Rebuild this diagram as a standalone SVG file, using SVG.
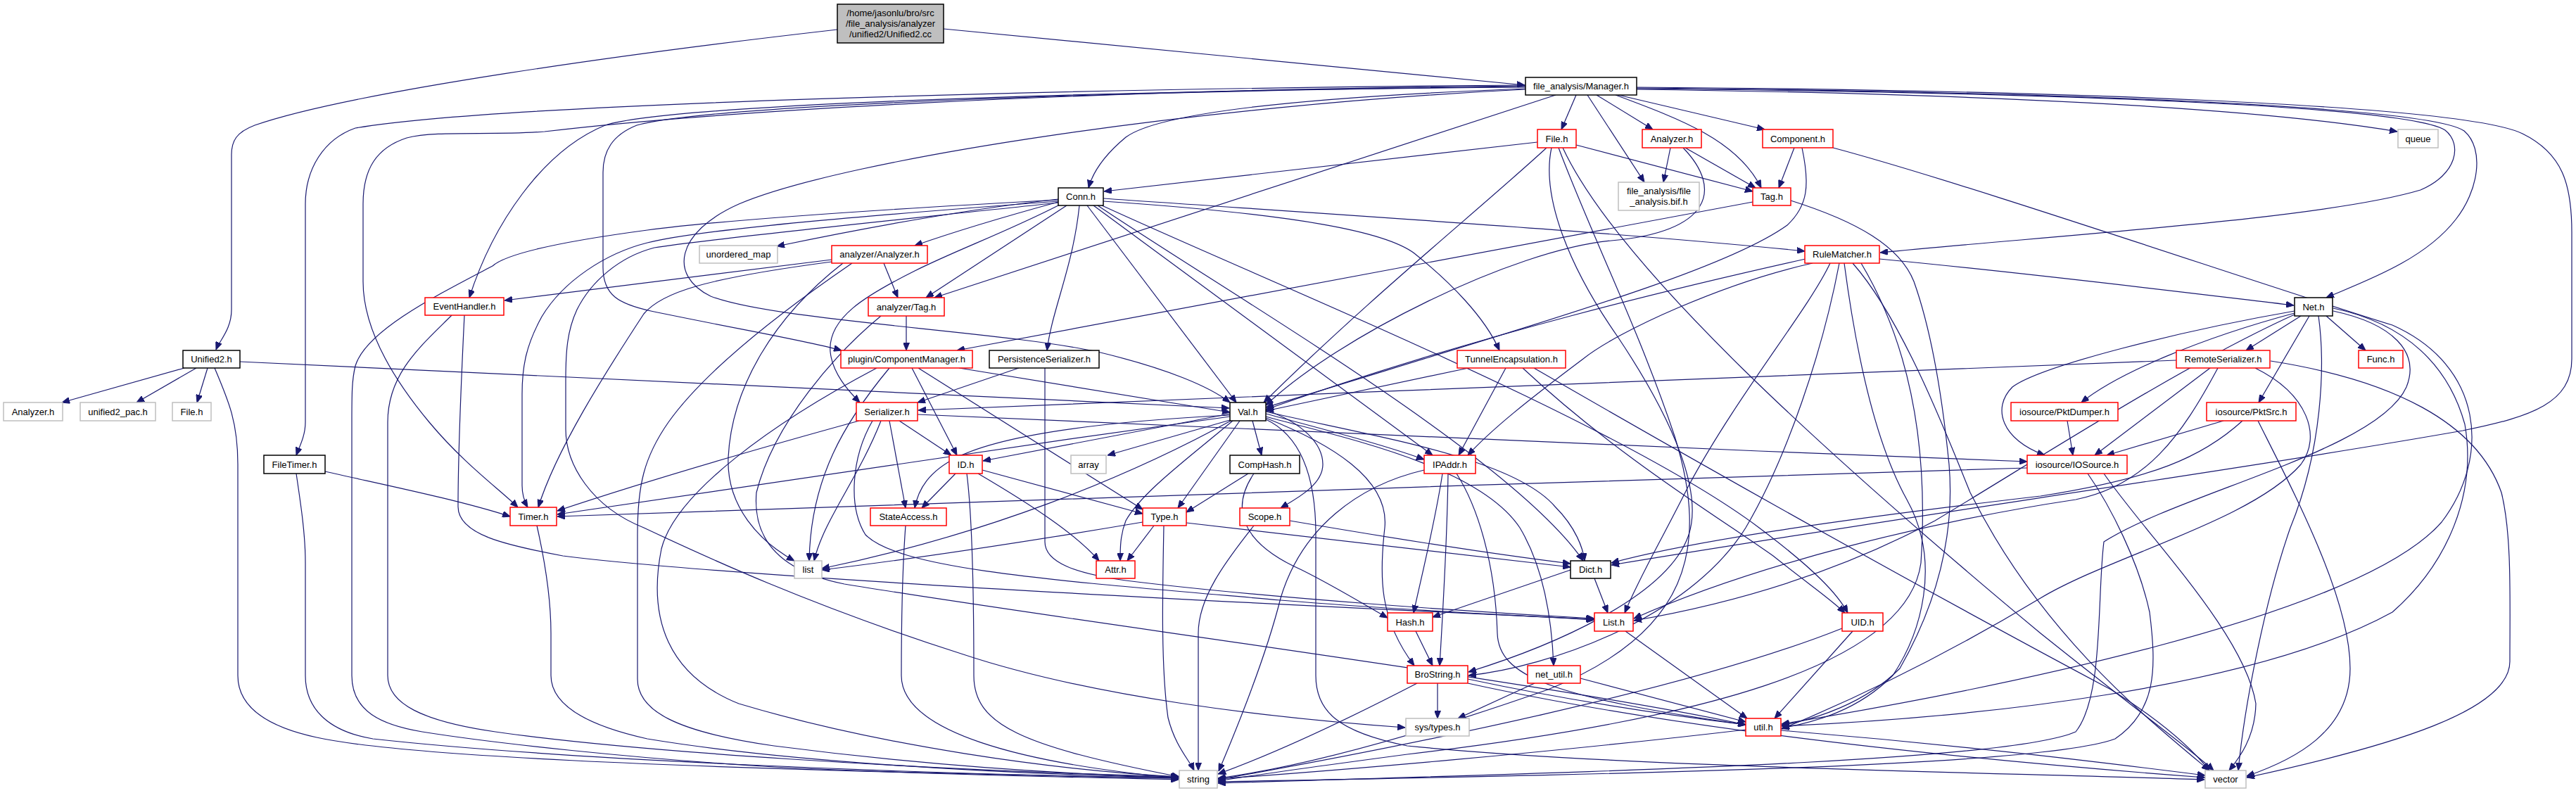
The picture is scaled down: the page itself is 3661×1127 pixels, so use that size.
<svg xmlns="http://www.w3.org/2000/svg" width="3661" height="1127" viewBox="0 0 3661 1127">
<style>
.e{fill:none;stroke:#191970;stroke-width:1.2;marker-end:url(#ah)}
.nb{fill:#fff;stroke:#000;stroke-width:1.5}
.nr{fill:#fff;stroke:#ff0000;stroke-width:1.5}
.ng{fill:#fff;stroke:#bfbfbf;stroke-width:1.5}
.nm{fill:#bfbfbf;stroke:#000;stroke-width:1.5}
text{font-family:"Liberation Sans",Arial,Helvetica,sans-serif;font-size:13px;fill:#000;text-anchor:middle}
</style>
<defs>
<marker id="ah" viewBox="0 0 11 9" refX="11" refY="4.5" markerWidth="11" markerHeight="9" markerUnits="userSpaceOnUse" orient="auto"><path d="M0,0L11,4.5L0,9z" fill="#191970" stroke="#191970" stroke-width="1"/></marker>
</defs>
<rect width="3661" height="1127" fill="#fff"/>
<g id="edges">
<path class="e" d="M1190,42 C900,75 500,130 362,178 C336,188 329,200 329,220 L329,440 C329,468 312,484 307,497"/>
<path class="e" d="M1341,41 L2167,121"/>
<path class="e" d="M262,523 L88,572"/>
<path class="e" d="M279,523 L194,572"/>
<path class="e" d="M295,523 L280,572"/>
<path class="e" d="M341,514 C900,541 1400,564 1747,580"/>
<path class="e" d="M305,523 C325,570 338,600 338,660 L338,960 C338,1010 390,1035 450,1048 C560,1072 900,1092 1675,1106"/>
<path class="e" d="M2240,135 L2219,184"/>
<path class="e" d="M2256,135 L2337,259"/>
<path class="e" d="M2269,135 L2349,184"/>
<path class="e" d="M2296,135 C2390,170 2470,200 2503,267"/>
<path class="e" d="M2300,135 L2508,184"/>
<path class="e" d="M2326,127 C2800,133 3200,152 3407,187"/>
<path class="e" d="M2326,126 C2900,131 3420,150 3475,185 C3500,205 3492,248 3440,270 C3300,312 2900,336 2672,359"/>
<path class="e" d="M2326,125 C2900,130 3450,150 3502,186 C3532,212 3522,272 3490,312 C3445,370 3360,400 3306,423"/>
<path class="e" d="M2326,124 C2900,128 3500,148 3585,190 C3642,218 3655,262 3655,330 L3655,510 C3655,572 3600,592 3500,612 C3200,665 2700,735 2290,803"/>
<path class="e" d="M2168,126 C1800,140 1640,165 1600,195 C1570,220 1553,245 1547,267"/>
<path class="e" d="M2211,135 L1328,423"/>
<path class="e" d="M2168,127 C1700,150 1200,226 1050,290 C960,330 950,392 1010,421 C1100,456 1420,470 1560,500 C1660,524 1720,550 1748,572"/>
<path class="e" d="M2168,124 C1600,128 1000,150 905,178 C870,192 857,215 857,245 L857,380 C857,420 880,432 925,442 C1050,468 1150,485 1196,498"/>
<path class="e" d="M2168,121 C1500,126 700,148 505,182 C460,198 434,240 434,290 L434,600 C434,620 425,636 421,647"/>
<path class="e" d="M2168,122 C1500,128 1000,160 774,187 C700,193 620,185 578,196 C535,210 516,240 516,290 L516,400 C516,470 560,540 610,600 C660,660 712,697 736,721"/>
<path class="e" d="M2168,123 C1500,130 950,150 860,178 C770,215 700,320 667,423"/>
<path class="e" d="M1504,283 C1350,300 1200,330 1104,350"/>
<path class="e" d="M1504,287 C1420,310 1340,335 1300,349"/>
<path class="e" d="M1516,292 L1316,423"/>
<path class="e" d="M1506,291 C1430,330 1360,355 1300,385 C1230,420 1176,452 1180,500 C1183,530 1205,555 1222,572"/>
<path class="e" d="M1534,292 C1525,380 1495,440 1488,498"/>
<path class="e" d="M1545,292 L1757,572"/>
<path class="e" d="M1554,292 L2036,647"/>
<path class="e" d="M1560,292 C1750,420 2150,650 2250,797"/>
<path class="e" d="M1566,292 C1800,400 2300,600 2500,750 C2580,810 2612,845 2626,871"/>
<path class="e" d="M1568,282 C1900,305 2300,330 2565,357"/>
<path class="e" d="M1568,286 C1850,305 1970,330 2010,360 C2060,400 2110,450 2131,498"/>
<path class="e" d="M1504,286 C1250,305 1000,325 920,345 C860,360 800,400 770,450 C748,490 742,520 742,560 L742,690 C742,705 746,714 750,721"/>
<path class="e" d="M1504,284 C1300,295 1050,310 920,327 C800,343 720,360 700,378 C620,420 520,470 505,520 C500,540 500,560 500,600 L500,960 C500,1010 540,1030 600,1040 C700,1056 900,1078 1100,1090 C1300,1100 1500,1104 1675,1108"/>
<path class="e" d="M1504,288 C1300,310 1000,340 930,352 C880,365 840,400 820,440 C806,470 804,500 804,540 L804,610 C804,660 840,720 915,750 C1000,790 1150,860 1369,930 C1550,990 1800,1020 1997,1034"/>
<path class="e" d="M2185,202 L1569,272"/>
<path class="e" d="M2240,206 L2491,272"/>
<path class="e" d="M2198,210 C2100,300 1950,420 1796,572"/>
<path class="e" d="M2205,210 C2190,280 2230,380 2300,480 C2380,600 2420,700 2400,760 C2370,850 2200,920 2087,955"/>
<path class="e" d="M2215,210 C2260,330 2330,470 2380,620 C2430,780 2400,900 2200,980 C2000,1050 1850,1090 1731,1106"/>
<path class="e" d="M2221,210 C2300,380 2600,650 2900,900 C3050,1020 3120,1070 3146,1095"/>
<path class="e" d="M2374,210 L2364,259"/>
<path class="e" d="M2395,210 L2495,267"/>
<path class="e" d="M2392,210 C2450,270 2430,330 2290,342 C2150,355 1900,480 1799,576"/>
<path class="e" d="M2550,210 L2528,267"/>
<path class="e" d="M2561,210 C2572,262 2570,292 2540,320 C2450,385 2200,455 1799,579"/>
<path class="e" d="M2605,210 C2800,262 3200,400 3400,462 C3530,520 3540,650 3470,742 C3350,880 2800,985 2532,1029"/>
<path class="e" d="M2491,287 L1360,498"/>
<path class="e" d="M2545,285 C2640,315 2700,350 2720,400 C2745,470 2760,560 2770,660 C2780,780 2740,880 2700,950 C2650,1000 2580,1022 2532,1031"/>
<path class="e" d="M2671,368 C2900,390 3100,415 3260,434"/>
<path class="e" d="M2566,368 C2400,405 2100,475 1799,582"/>
<path class="e" d="M2576,374 C2450,402 2300,470 2250,510 C2170,570 2120,610 2086,647"/>
<path class="e" d="M2601,374 C2570,440 2470,560 2400,690 C2360,770 2330,820 2309,871"/>
<path class="e" d="M2614,374 C2590,500 2540,650 2481,750 C2400,880 2200,948 2087,960"/>
<path class="e" d="M2621,374 C2635,480 2660,620 2710,710 C2760,800 2730,900 2690,960 C2640,1010 2580,1026 2532,1035"/>
<path class="e" d="M2633,374 C2700,450 2760,600 2800,700 C2900,900 3050,1020 3140,1095"/>
<path class="e" d="M2645,374 C2720,500 2740,650 2730,800 C2710,950 2400,1025 2000,1072 C1850,1092 1780,1102 1731,1110"/>
<path class="e" d="M642,448 C600,490 551,530 551,600 L551,960 C551,1000 600,1025 704,1040 C900,1068 1300,1094 1675,1104"/>
<path class="e" d="M660,448 C655,550 651,650 651,720 C651,760 720,775 800,790 C1000,815 1500,845 2265,880"/>
<path class="e" d="M1182,369 L717,427"/>
<path class="e" d="M1256,374 L1276,423"/>
<path class="e" d="M1182,372 C1000,396 940,416 915,446 C860,530 790,640 765,721"/>
<path class="e" d="M1211,374 C1100,450 1000,530 950,600 C915,650 906,690 906,760 L906,965 C906,1010 960,1040 1100,1060 C1300,1086 1500,1100 1675,1105"/>
<path class="e" d="M1198,374 C1100,450 1040,550 1035,650 C1032,720 1080,770 1129,797"/>
<path class="e" d="M1288,449 L1288,498"/>
<path class="e" d="M1252,449 C1190,500 1100,600 1075,700 C1070,760 1100,810 1200,830 C1500,880 2200,970 2481,1030"/>
<path class="e" d="M1363,523 L1748,586"/>
<path class="e" d="M1296,523 L1360,647"/>
<path class="e" d="M1305,523 L1624,724"/>
<path class="e" d="M1264,523 C1200,600 1152,680 1150,797"/>
<path class="e" d="M1246,523 C1100,600 960,700 940,780 C920,880 950,960 1050,1000 C1250,1060 1500,1095 1676,1104"/>
<path class="e" d="M1448,523 L1304,572"/>
<path class="e" d="M1485,523 L1485,770 C1485,800 1530,815 1600,825 C1800,850 2100,870 2266,879"/>
<path class="e" d="M2087,523 L1799,584"/>
<path class="e" d="M2140,523 L2073,647"/>
<path class="e" d="M2164,523 C2300,650 2450,740 2520,790 C2570,830 2600,850 2622,871"/>
<path class="e" d="M2180,523 C2400,650 2700,820 3000,980 C3080,1030 3120,1070 3140,1095"/>
<path class="e" d="M3093,512 C2600,528 1900,560 1305,583"/>
<path class="e" d="M3141,523 L2977,647"/>
<path class="e" d="M3152,523 C3100,620 3050,690 2950,710 C2750,740 2500,800 2322,879"/>
<path class="e" d="M3205,523 C3280,560 3300,620 3270,660 C3200,740 3000,790 2900,850 C2750,940 2620,1000 2532,1036"/>
<path class="e" d="M3227,513 C3400,540 3520,600 3555,700 C3570,760 3567,850 3567,940 C3567,1010 3400,1060 3193,1105"/>
<path class="e" d="M3261,442 C3100,470 2900,520 2860,550 C2830,580 2845,625 2906,647"/>
<path class="e" d="M3261,445 C3130,480 3010,530 2958,572"/>
<path class="e" d="M3270,449 L3192,498"/>
<path class="e" d="M3282,449 L3210,572"/>
<path class="e" d="M3306,449 L3362,498"/>
<path class="e" d="M3295,449 C3305,520 3300,640 3255,750 C3220,850 3190,1000 3181,1095"/>
<path class="e" d="M3316,442 C3400,460 3440,500 3420,550 C3380,640 3100,700 2990,770 C2980,850 2990,990 2950,1040 C2850,1085 2200,1098 1731,1113"/>
<path class="e" d="M3316,438 C3420,460 3480,520 3503,603 C3520,700 3480,800 3400,870 C3200,980 2800,1020 2532,1032"/>
<path class="e" d="M3261,447 C3100,520 2900,650 2750,740 C2600,820 2450,860 2322,882"/>
<path class="e" d="M2938,598 L2946,647"/>
<path class="e" d="M3160,598 L2994,647"/>
<path class="e" d="M3209,598 C3260,700 3340,850 3340,950 C3340,1040 3260,1080 3193,1103"/>
<path class="e" d="M3187,598 C3130,650 3060,680 2900,705 C2600,740 2400,770 2290,800"/>
<path class="e" d="M2881,665 C2200,685 1300,716 792,734"/>
<path class="e" d="M2967,673 C3000,720 3040,800 3055,870 C3065,950 3065,1010 3006,1050 C2900,1090 2300,1100 1731,1111"/>
<path class="e" d="M2990,673 C3050,760 3190,900 3206,1000 C3205,1050 3180,1080 3168,1095"/>
<path class="e" d="M1221,598 C1050,645 900,690 792,726"/>
<path class="e" d="M1278,598 L1352,647"/>
<path class="e" d="M1264,598 L1287,722"/>
<path class="e" d="M1252,598 C1220,680 1170,740 1157,797"/>
<path class="e" d="M1240,598 C1210,650 1205,720 1230,760 C1280,810 1500,825 1820,853 C2000,868 2150,874 2266,881"/>
<path class="e" d="M1304,589 C1600,600 2200,630 2500,641 C2700,648 2800,653 2881,656"/>
<path class="e" d="M1748,588 L1397,655"/>
<path class="e" d="M1748,590 C1550,600 1420,620 1360,650 C1320,670 1305,695 1300,722"/>
<path class="e" d="M1748,592 C1400,640 1000,700 792,731"/>
<path class="e" d="M1748,597 L1574,647"/>
<path class="e" d="M1780,598 L1793,647"/>
<path class="e" d="M1762,598 L1674,722"/>
<path class="e" d="M1752,598 C1690,650 1622,700 1600,740 C1592,760 1592,780 1592,797"/>
<path class="e" d="M1751,597 C1600,680 1400,760 1168,808"/>
<path class="e" d="M1799,585 C1950,620 2150,650 2210,720 C2240,750 2250,780 2252,797"/>
<path class="e" d="M1799,588 C1880,610 1960,630 2024,653"/>
<path class="e" d="M1799,592 C1900,620 2100,660 2160,750 C2190,800 2205,870 2208,946"/>
<path class="e" d="M1799,594 C1890,630 1975,680 1968,750 C1960,820 1960,880 2010,946"/>
<path class="e" d="M1799,596 C1850,620 1870,680 1870,760 L1870,960 C1870,1010 1900,1040 2000,1060 C2300,1090 2800,1097 3133,1108"/>
<path class="e" d="M1799,583 C1850,600 1880,630 1880,660 C1880,690 1840,710 1820,722"/>
<path class="e" d="M1358,673 L1310,722"/>
<path class="e" d="M1396,668 L1624,730"/>
<path class="e" d="M1390,673 C1470,720 1530,760 1562,797"/>
<path class="e" d="M1374,673 C1380,720 1384,800 1384,960 C1384,1030 1450,1060 1676,1104"/>
<path class="e" d="M1287,747 C1283,800 1281,880 1281,960 C1281,1040 1450,1085 1676,1106"/>
<path class="e" d="M1624,742 C1400,780 1250,800 1168,810"/>
<path class="e" d="M1640,747 L1602,797"/>
<path class="e" d="M1654,747 C1652,850 1650,950 1660,1020 C1670,1060 1690,1080 1697,1095"/>
<path class="e" d="M1686,743 L2232,806"/>
<path class="e" d="M1774,673 L1686,728"/>
<path class="e" d="M1782,673 C1750,720 1760,770 1850,810 C1900,835 1940,860 1972,878"/>
<path class="e" d="M1833,740 C1950,760 2100,785 2232,801"/>
<path class="e" d="M1782,747 C1740,800 1703,850 1703,900 L1703,1095"/>
<path class="e" d="M2050,673 C2040,740 2020,820 2009,871"/>
<path class="e" d="M2058,673 C2057,750 2050,880 2046,946"/>
<path class="e" d="M2024,668 C1930,690 1850,750 1820,850 C1800,930 1760,1030 1732,1096"/>
<path class="e" d="M2070,673 C2100,720 2125,800 2128,900 C2130,960 2200,990 2481,1030"/>
<path class="e" d="M2232,810 L2036,877"/>
<path class="e" d="M2266,822 L2285,871"/>
<path class="e" d="M2012,897 L2036,946"/>
<path class="e" d="M2310,897 L2483,1021"/>
<path class="e" d="M2633,897 L2522,1021"/>
<path class="e" d="M2618,893 C2400,980 2000,1060 1731,1108"/>
<path class="e" d="M2043,971 L2043,1021"/>
<path class="e" d="M2086,965 C2250,1000 2400,1020 2481,1030"/>
<path class="e" d="M2086,971 C2400,1040 2800,1080 3134,1105"/>
<path class="e" d="M2014,971 C1900,1030 1800,1075 1731,1100"/>
<path class="e" d="M2181,971 L2072,1021"/>
<path class="e" d="M2246,964 L2481,1026"/>
<path class="e" d="M2481,1037 C2200,1070 1900,1095 1731,1107"/>
<path class="e" d="M2531,1038 C2800,1060 3000,1085 3134,1102"/>
<path class="e" d="M462,670 C550,690 650,710 725,734"/>
<path class="e" d="M421,673 C428,720 434,760 434,800 L434,960 C434,1010 470,1040 530,1050 C800,1080 1300,1100 1675,1106"/>
<path class="e" d="M763,747 C775,800 783,850 783,900 L783,960 C783,1000 830,1030 920,1050 C1100,1080 1400,1100 1675,1105"/>
</g>
<g id="n_cc"><rect class="nm" x="1190" y="6" width="151" height="55"/><text x="1265.5" y="23">/home/jasonlu/bro/src</text><text x="1265.5" y="38">/file_analysis/analyzer</text><text x="1265.5" y="53">/unified2/Unified2.cc</text></g>
<g id="n_manager"><rect class="nb" x="2168" y="110" width="158" height="25"/><text x="2247" y="127">file_analysis/Manager.h</text></g>
<g id="n_file_r"><rect class="nr" x="2185" y="184" width="55" height="26"/><text x="2212.5" y="201.5">File.h</text></g>
<g id="n_analyzer_r"><rect class="nr" x="2334" y="184" width="84" height="26"/><text x="2376" y="201.5">Analyzer.h</text></g>
<g id="n_component"><rect class="nr" x="2505" y="184" width="100" height="26"/><text x="2555" y="201.5">Component.h</text></g>
<g id="n_queue"><rect class="ng" x="3408" y="184" width="57" height="26"/><text x="3436.5" y="201.5">queue</text></g>
<g id="n_bif"><rect class="ng" x="2300" y="259" width="115" height="40"/><text x="2357.5" y="275.5">file_analysis/file</text><text x="2357.5" y="290.5">_analysis.bif.h</text></g>
<g id="n_tag"><rect class="nr" x="2491" y="267" width="54" height="25"/><text x="2518" y="284">Tag.h</text></g>
<g id="n_conn"><rect class="nb" x="1504" y="267" width="64" height="25"/><text x="1536" y="284">Conn.h</text></g>
<g id="n_umap"><rect class="ng" x="994" y="349" width="111" height="25"/><text x="1049.5" y="366">unordered_map</text></g>
<g id="n_aanalyzer"><rect class="nr" x="1182" y="349" width="136" height="25"/><text x="1250" y="366">analyzer/Analyzer.h</text></g>
<g id="n_rulematcher"><rect class="nr" x="2565" y="349" width="106" height="25"/><text x="2618" y="366">RuleMatcher.h</text></g>
<g id="n_eventhandler"><rect class="nr" x="604" y="423" width="112" height="25"/><text x="660" y="440">EventHandler.h</text></g>
<g id="n_atag"><rect class="nr" x="1234" y="423" width="108" height="26"/><text x="1288" y="440.5">analyzer/Tag.h</text></g>
<g id="n_net"><rect class="nb" x="3261" y="423" width="54" height="26"/><text x="3288" y="440.5">Net.h</text></g>
<g id="n_unified2h"><rect class="nb" x="260" y="498" width="81" height="25"/><text x="300.5" y="515">Unified2.h</text></g>
<g id="n_compmgr"><rect class="nr" x="1195" y="498" width="187" height="25"/><text x="1288.5" y="515">plugin/ComponentManager.h</text></g>
<g id="n_persist"><rect class="nb" x="1406" y="498" width="156" height="25"/><text x="1484" y="515">PersistenceSerializer.h</text></g>
<g id="n_tunnel"><rect class="nr" x="2071" y="498" width="154" height="25"/><text x="2148" y="515">TunnelEncapsulation.h</text></g>
<g id="n_remoteser"><rect class="nr" x="3093" y="498" width="133" height="25"/><text x="3159.5" y="515">RemoteSerializer.h</text></g>
<g id="n_func"><rect class="nr" x="3352" y="498" width="63" height="25"/><text x="3383.5" y="515">Func.h</text></g>
<g id="n_analyzer_g"><rect class="ng" x="5" y="572" width="84" height="26"/><text x="47" y="589.5">Analyzer.h</text></g>
<g id="n_pac"><rect class="ng" x="114" y="572" width="107" height="26"/><text x="167.5" y="589.5">unified2_pac.h</text></g>
<g id="n_file_g"><rect class="ng" x="245" y="572" width="55" height="26"/><text x="272.5" y="589.5">File.h</text></g>
<g id="n_serializer"><rect class="nr" x="1217" y="572" width="87" height="26"/><text x="1260.5" y="589.5">Serializer.h</text></g>
<g id="n_val"><rect class="nb" x="1748" y="572" width="51" height="26"/><text x="1773.5" y="589.5">Val.h</text></g>
<g id="n_pktdumper"><rect class="nr" x="2858" y="572" width="152" height="26"/><text x="2934" y="589.5">iosource/PktDumper.h</text></g>
<g id="n_pktsrc"><rect class="nr" x="3136" y="572" width="127" height="26"/><text x="3199.5" y="589.5">iosource/PktSrc.h</text></g>
<g id="n_filetimer"><rect class="nb" x="375" y="647" width="87" height="26"/><text x="418.5" y="664.5">FileTimer.h</text></g>
<g id="n_id"><rect class="nr" x="1349" y="647" width="47" height="26"/><text x="1372.5" y="664.5">ID.h</text></g>
<g id="n_array"><rect class="ng" x="1522" y="647" width="50" height="26"/><text x="1547" y="664.5">array</text></g>
<g id="n_comphash"><rect class="nb" x="1748" y="647" width="99" height="26"/><text x="1797.5" y="664.5">CompHash.h</text></g>
<g id="n_ipaddr"><rect class="nr" x="2024" y="647" width="73" height="26"/><text x="2060.5" y="664.5">IPAddr.h</text></g>
<g id="n_iosource"><rect class="nr" x="2881" y="647" width="142" height="26"/><text x="2952" y="664.5">iosource/IOSource.h</text></g>
<g id="n_timer"><rect class="nr" x="725" y="721" width="66" height="26"/><text x="758" y="738.5">Timer.h</text></g>
<g id="n_stateaccess"><rect class="nr" x="1237" y="722" width="108" height="25"/><text x="1291" y="739">StateAccess.h</text></g>
<g id="n_type"><rect class="nr" x="1624" y="722" width="62" height="25"/><text x="1655" y="739">Type.h</text></g>
<g id="n_scope"><rect class="nr" x="1762" y="722" width="71" height="25"/><text x="1797.5" y="739">Scope.h</text></g>
<g id="n_list"><rect class="ng" x="1129" y="797" width="39" height="25"/><text x="1148.5" y="814">list</text></g>
<g id="n_attr"><rect class="nr" x="1558" y="797" width="55" height="25"/><text x="1585.5" y="814">Attr.h</text></g>
<g id="n_dict"><rect class="nb" x="2232" y="797" width="57" height="25"/><text x="2260.5" y="814">Dict.h</text></g>
<g id="n_hash"><rect class="nr" x="1972" y="871" width="64" height="26"/><text x="2004" y="888.5">Hash.h</text></g>
<g id="n_listh"><rect class="nr" x="2266" y="871" width="55" height="26"/><text x="2293.5" y="888.5">List.h</text></g>
<g id="n_uid"><rect class="nr" x="2618" y="871" width="58" height="26"/><text x="2647" y="888.5">UID.h</text></g>
<g id="n_brostring"><rect class="nr" x="2000" y="946" width="86" height="25"/><text x="2043" y="963">BroString.h</text></g>
<g id="n_netutil"><rect class="nr" x="2171" y="946" width="75" height="25"/><text x="2208.5" y="963">net_util.h</text></g>
<g id="n_systypes"><rect class="ng" x="1998" y="1021" width="90" height="25"/><text x="2043" y="1038">sys/types.h</text></g>
<g id="n_util"><rect class="nr" x="2481" y="1021" width="50" height="25"/><text x="2506" y="1038">util.h</text></g>
<g id="n_string"><rect class="ng" x="1676" y="1095" width="54" height="25"/><text x="1703" y="1112">string</text></g>
<g id="n_vector"><rect class="ng" x="3134" y="1095" width="58" height="25"/><text x="3163" y="1112">vector</text></g>
</svg>
